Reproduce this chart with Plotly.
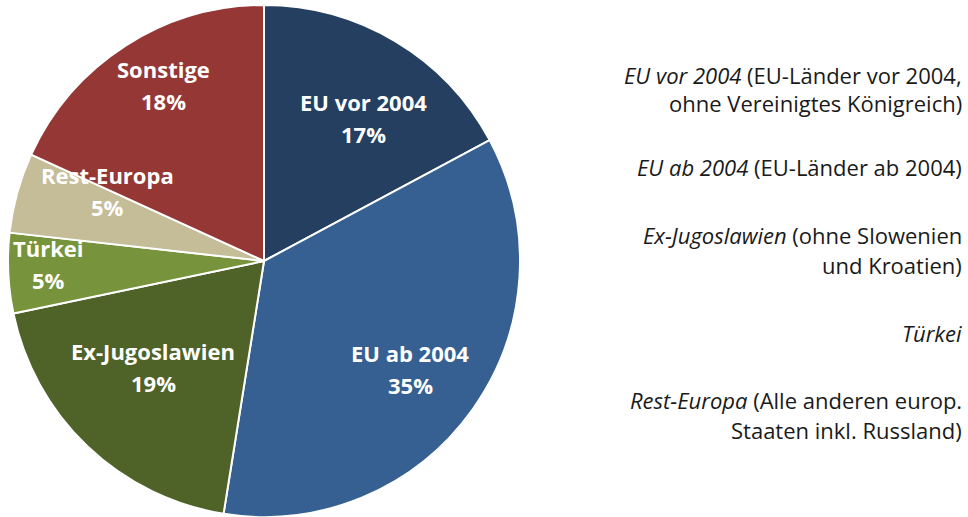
import math
import plotly.graph_objects as go

categories = ["EU vor 2004", "EU ab 2004", "Ex-Jugoslawien", "Türkei", "Rest-Europa", "Sonstige"]
shares = [17, 35, 19, 5, 5, 18]
colors = ["#243f60", "#366092", "#4f6228", "#77933c", "#c4bd97", "#953735"]

# right-hand explanatory text (italic part, plain part), one entry per line
legend_lines = [
    ("EU vor 2004", " (EU-Länder vor 2004,"),
    ("", "ohne Vereinigtes Königreich)"),
    ("EU ab 2004", " (EU-Länder ab 2004)"),
    ("Ex-Jugoslawien", " (ohne Slowenien"),
    ("", "und Kroatien)"),
    ("Türkei", ""),
    ("Rest-Europa", " (Alle anderen europ."),
    ("", "Staaten inkl. Russland)"),
]

# layout / style parameters
W, H = 968, 517
FONT = "'Open Sans', 'Noto Sans', sans-serif"
PIE_X0, PIE_TOP, PIE_D = 8, 5, 512
legend_y_px = [75, 103, 167, 235, 265, 333, 400, 430]
label_r = [0.68, 0.71, 0.60, 0.84, 0.67, 0.79]       # label radius as fraction of R
label_nudge = [4, 1, 2.5, 2, 8.5, 3]                  # degrees of angular nudge

fig = go.Figure()
fig.add_trace(go.Pie(
    labels=categories,
    values=shares,
    sort=False,
    direction="clockwise",
    rotation=0,
    marker=dict(colors=colors, line=dict(color="white", width=2)),
    textinfo="none",
    hoverinfo="label+value",
    domain=dict(x=[PIE_X0 / W, (PIE_X0 + PIE_D) / W],
                y=[1 - (PIE_TOP + PIE_D) / H, 1 - PIE_TOP / H]),
    showlegend=False,
))

# slice labels placed at each slice's angle, derived from the values
cx = PIE_X0 + PIE_D / 2
cy = PIE_TOP + PIE_D / 2
R = PIE_D / 2
total = sum(shares)
cum = 0
for cat, v, rf, nd in zip(categories, shares, label_r, label_nudge):
    mid = (cum + v / 2) / total * 360 + nd
    cum += v
    a = math.radians(mid)
    px = cx + rf * R * math.sin(a)
    py = cy - rf * R * math.cos(a)
    for txt, ys in ((cat, 16), (f"{v}%", -16)):
        fig.add_annotation(
            x=px / W, y=1 - py / H, xref="paper", yref="paper",
            xanchor="center", yanchor="middle", yshift=ys,
            text=f"<b>{txt}</b>", showarrow=False,
            font=dict(family=FONT, size=22, color="white"),
        )

for (it, plain), yc in zip(legend_lines, legend_y_px):
    txt = (f"<i>{it}</i>" if it else "") + plain
    fig.add_annotation(
        x=964 / W, y=1 - yc / H, xref="paper", yref="paper",
        xanchor="right", yanchor="middle", align="right",
        text=txt, showarrow=False,
        font=dict(family=FONT, size=22, color="#1a1a1a"),
    )

fig.update_layout(
    width=W, height=H,
    margin=dict(l=0, r=0, t=0, b=0),
    paper_bgcolor="white",
    plot_bgcolor="white",
)

fig.write_html("out.html", config={"displayModeBar": False},
               post_script="document.body.style.margin='0';")
